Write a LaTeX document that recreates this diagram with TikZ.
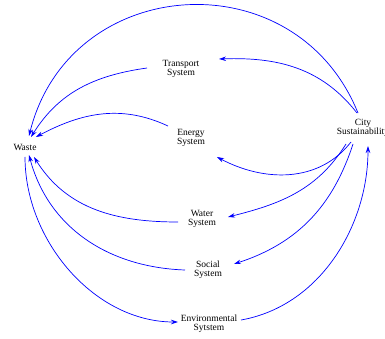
\documentclass[tikz,border=0pt]{standalone}
\usepackage{fontspec}
\setmainfont{Liberation Serif}
\usetikzlibrary{arrows.meta}

\begin{document}
\begin{tikzpicture}[x=1pt,y=1pt,
  var/.style={align=center,inner sep=1pt,font=\fontsize{9.5}{9}\selectfont},
  link/.style={blue,line width=0.7pt,-{Stealth[length=7pt,width=4.5pt]}}]
  \useasboundingbox (0,0) rectangle (385,-339);
  % variables
  \node[var] (waste) at (25,-147) {Waste};
  \node[var] (transport) at (181,-69) {Transport\\System};
  \node[var] (energy) at (191,-138) {Energy\\System};
  \node[var] (city) at (363,-128) {City\\Sustainability};
  \node[var] (water) at (202,-219) {Water\\System};
  \node[var] (social) at (208,-270) {Social\\System};
  \node[var] (env) at (209,-324) {Environmental\\Sytstem};
  % links into waste
  \draw[link] ([shift={(-5,15)}]city.center) to[out=112,in=76,looseness=1.3] ([shift={(4,11)}]waste.center);
  \draw[link] ([shift={(-34,1)}]transport.center) to[out=188,in=58] ([shift={(6,10)}]waste.center);
  \draw[link] ([shift={(-23,12)}]energy.center) to[out=155,in=28] ([shift={(11,10)}]waste.center);
  \draw[link] ([shift={(-24,-3)}]water.center) to[out=180,in=-58] ([shift={(9,-10)}]waste.center);
  \draw[link] ([shift={(-23,0)}]social.center) to[out=178,in=-75] ([shift={(4,-8)}]waste.center);
  % links out of city
  \draw[link] ([shift={(-6,15)}]city.center) to[out=128,in=2] ([shift={(38,10)}]transport.center);
  \draw[link] ([shift={(-12,-14)}]city.center) to[out=232,in=-28] ([shift={(26,-19)}]energy.center);
  \draw[link] ([shift={(-17,-16)}]city.center) to[out=238,in=14] ([shift={(26,2)}]water.center);
  \draw[link] ([shift={(-10,-16)}]city.center) to[out=252,in=18] ([shift={(26,6)}]social.center);
  % loop through environment
  \draw[link] ([shift={(0,-10)}]waste.center) to[out=-90,in=180,looseness=0.95] ([shift={(-31,2)}]env.center);
  \draw[link] ([shift={(32,4)}]env.center) to[out=10,in=-90,looseness=0.95] ([shift={(5,-18)}]city.center);
\end{tikzpicture}
\end{document}
